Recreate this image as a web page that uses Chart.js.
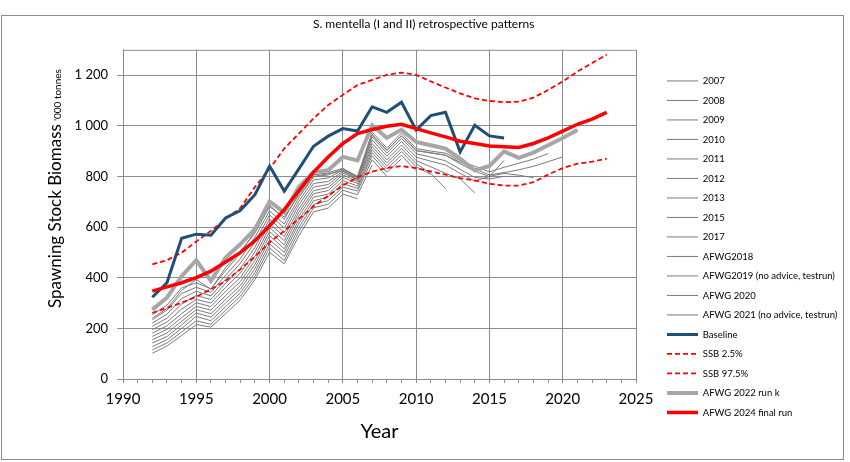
<!DOCTYPE html>
<html><head><meta charset="utf-8">
<script src="https://cdn.jsdelivr.net/npm/chart.js@4.4.1/dist/chart.umd.min.js"></script>
<style>
body{margin:0;background:#fff}
#wrap{position:relative;width:850px;height:462px}
#frame{position:absolute;left:1px;top:15px;width:841px;height:443px;border:1px solid #8c8c8c;pointer-events:none}
</style></head><body>
<div id="wrap"><canvas id="chart" width="850" height="462"></canvas><div id="frame"></div></div>
<script>
var FONT = 'Lato';
var firstYear = 1992;

// retrospective runs (all start in 1992)
var run2007 = [102,130,172,215,205,258,312,392,500,455,565,660,675,730,712];
var run2008 = [115,142,186,230,216,272,326,406,518,468,582,676,690,745,728,845];
var run2009 = [128,155,200,247,230,286,340,420,534,484,598,690,704,758,742,866,800];
var run2010 = [142,168,214,261,244,300,354,436,550,500,614,704,718,772,752,882,816,870];
var run2011 = [155,182,228,274,258,314,368,452,566,514,628,718,730,784,762,894,830,884,822];
var run2012 = [168,196,242,287,272,330,384,468,582,530,644,732,744,796,772,906,842,898,838,808];
var run2013 = [181,210,258,301,286,346,400,484,598,546,658,744,756,806,780,918,854,910,850,812,752];
var run2015 = [195,225,276,314,300,362,418,502,614,562,672,758,768,814,786,930,866,924,862,838,812,790,735];
var run2017 = [208,240,296,330,314,378,436,520,632,578,688,772,780,820,790,944,880,938,876,860,845,812,782,800,863];
var runAfwg2018 = [221,256,318,346,328,394,456,540,648,596,702,786,794,826,796,956,892,950,890,876,862,828,796,790,800,800];
var runAfwg2019 = [234,272,338,362,342,410,474,560,664,612,716,798,806,830,798,966,902,962,902,892,884,850,820,800,812,805,795];
var runAfwg2020 = [254,292,360,380,356,428,496,584,688,630,734,806,814,832,800,975,912,972,910,900,892,862,840,818,836,852,868,890];
var runAfwg2021 = [240,278,350,393,354,440,504,576,680,640,726,800,810,822,792,962,904,960,902,894,884,856,830,806,815,826,840,858,877];

var baseline = [323,380,556,572,568,636,665,728,841,742,830,919,959,989,979,1075,1053,1093,983,1040,1053,897,1002,960,952];
var ssbLow = [261,281,301,325,354,387,433,483,539,585,632,682,724,764,797,819,833,841,833,820,807,793,784,771,764,764,777,807,833,850,858,870];
var ssbHigh = [453,469,499,543,585,632,675,758,830,910,969,1029,1082,1122,1161,1181,1201,1210,1201,1175,1151,1128,1108,1098,1093,1095,1111,1141,1175,1214,1248,1281];
var afwg2022k = [274,321,406,469,387,480,532,592,701,658,758,817,824,877,863,1002,952,985,936,923,910,870,824,841,899,873,894,923,952,983];
var afwg2024 = [347,364,380,400,426,462,499,546,605,669,744,817,877,930,969,985,998,1006,989,972,956,939,930,920,917,914,930,952,979,1006,1026,1053];

var thinRuns = [run2007,run2008,run2009,run2010,run2011,run2012,run2013,run2015,run2017,runAfwg2018,runAfwg2019,runAfwg2020,runAfwg2021];
var thinNames = ['2007','2008','2009','2010','2011','2012','2013','2015','2017','AFWG2018','AFWG2019 (no advice, testrun)','AFWG 2020','AFWG 2021 (no advice, testrun)'];

var xTicks = [1990,1995,2000,2005,2010,2015,2020,2025];
var yTicks = [0,200,400,600,800,1000,1200];

function pts(vals) {
  return vals.map(function (v, i) { return {x: firstYear + i, y: v}; });
}

var datasets = [];
thinRuns.forEach(function (r, i) {
  datasets.push({label: thinNames[i], data: pts(r), borderColor: '#7a7a7a', backgroundColor: '#7a7a7a', borderWidth: 1, order: 10});
});
datasets.push({label: 'Baseline', data: pts(baseline), borderColor: '#1f4e79', backgroundColor: '#1f4e79', borderWidth: 3, order: 3});
datasets.push({label: 'SSB 2.5%', data: pts(ssbLow), borderColor: '#ff0000', backgroundColor: '#ff0000', borderWidth: 1.8, borderDash: [5, 3], order: 4});
datasets.push({label: 'SSB 97.5%', data: pts(ssbHigh), borderColor: '#ff0000', backgroundColor: '#ff0000', borderWidth: 1.8, borderDash: [5, 3], order: 4});
datasets.push({label: 'AFWG 2022 run k', data: pts(afwg2022k), borderColor: '#a6a6a6', backgroundColor: '#a6a6a6', borderWidth: 4, order: 5});
datasets.push({label: 'AFWG 2024 final run', data: pts(afwg2024), borderColor: '#ff0000', backgroundColor: '#ff0000', borderWidth: 3.5, order: 1});

// legend placement: measure the widest label so the line samples start at x=667
var legFs = 9.5, legPad = 10, legBox = 31;
var mctx = document.createElement('canvas').getContext('2d');
mctx.font = legFs + 'px ' + FONT;
var maxW = 0;
datasets.forEach(function (d) { maxW = Math.max(maxW, mctx.measureText(d.label).width); });
var legLeft = 667 - legPad;
var legWidth = legPad + legBox + legFs / 2 + maxW + 10;
var padRight = Math.max(0, 850 - legLeft - legWidth);

var frame = {
  id: 'frame',
  afterDraw: function (chart) {
    var a = chart.chartArea, c = chart.ctx;
    c.save();
    c.strokeStyle = '#8c8c8c';
    c.lineWidth = 1;
    c.beginPath();
    c.moveTo(a.left, a.top + 0.5);
    c.lineTo(a.right + 0.5, a.top + 0.5);
    c.lineTo(a.right + 0.5, a.bottom);
    c.stroke();
    // y axis title with small unit text
    c.translate(61, 308);
    c.rotate(-Math.PI / 2);
    c.fillStyle = '#000';
    c.textBaseline = 'alphabetic';
    c.font = '17px ' + FONT;
    var t = 'Spawning Stock Biomass';
    c.fillText(t, 0, 0);
    var w = c.measureText(t).width;
    c.font = '10px ' + FONT;
    c.fillText("'000 tonnes", w + 3, 0);
    c.restore();
  }
};

new Chart(document.getElementById('chart'), {
  type: 'line',
  data: {datasets: datasets},
  options: {
    responsive: false,
    animation: false,
    layout: {padding: {top: 12, right: padRight, bottom: 0, left: 0}},
    elements: {point: {radius: 0}, line: {tension: 0}},
    plugins: {
      title: {display: true, text: 'S. mentella (I and II) retrospective patterns', color: '#000',
        font: {family: FONT, size: 12, weight: 'normal'}, padding: {top: 5, bottom: 18.4}},
      legend: {position: 'right', align: 'start', maxWidth: legWidth + 1,
        title: {display: true, text: ' ', font: {size: 1}, padding: {top: 0, bottom: 53}},
        labels: {usePointStyle: true, pointStyle: 'line', pointStyleWidth: legBox, padding: legPad, color: '#000',
          font: {family: FONT, size: legFs},
          generateLabels: function (chart) {
            var items = Chart.defaults.plugins.legend.labels.generateLabels(chart);
            items.forEach(function (it) {
              var ds = chart.data.datasets[it.datasetIndex];
              it.lineDash = ds.borderDash || [];
              it.lineWidth = ds.borderWidth;
            });
            return items;
          },
          sort: function (a, b) { return a.datasetIndex - b.datasetIndex; }}},
      tooltip: {enabled: false}
    },
    scales: {
      x: {type: 'linear', min: 1990, max: 2025,
        afterFit: function (s) { s.height = 83; },
        ticks: {stepSize: 1, autoSkip: false, maxRotation: 0, padding: 7, color: '#000', font: {family: FONT, size: 15},
          callback: function (v) { return xTicks.indexOf(v) >= 0 ? String(v) : ''; }},
        grid: {color: function (c) { return xTicks.indexOf(c.tick && c.tick.value) >= 0 ? '#8c8c8c' : 'rgba(0,0,0,0)'; },
          tickColor: '#8c8c8c', tickLength: 4},
        border: {color: '#8c8c8c'},
        title: {display: true, text: 'Year', color: '#000', font: {family: FONT, size: 20}, padding: {top: 0, bottom: 18}}
      },
      y: {min: 0, max: 1300,
        afterFit: function (s) { s.width = 123; },
        afterBuildTicks: function (s) { s.ticks = yTicks.map(function (v) { return {value: v}; }); },
        ticks: {padding: 9, color: '#000', font: {family: FONT, size: 13},
          callback: function (v) { return String(v).replace(/\B(?=(\d{3})+$)/, ' '); }},
        grid: {color: '#8c8c8c', tickLength: 6},
        border: {color: '#8c8c8c'}
      },
      yR: {position: 'right', display: true, min: 0, max: 1,
        afterFit: function (s) { s.width = legLeft - 636; },
        ticks: {display: false}, grid: {display: false, drawTicks: false}, border: {display: false}}
    }
  },
  plugins: [frame]
});
</script>
</body></html>
